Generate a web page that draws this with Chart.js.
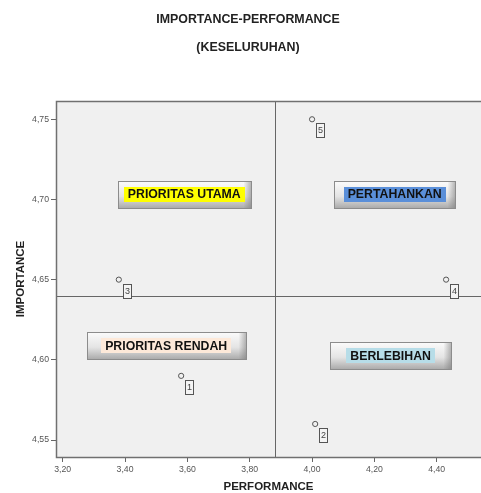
<!DOCTYPE html>
<html>
<head>
<meta charset="utf-8">
<script src="https://cdn.jsdelivr.net/npm/chart.js@4"></script>
<style>
  html, body { margin: 0; padding: 0; background: #fff; }
</style>
</head>
<body>
<canvas id="myChart" width="481" height="493"></canvas>
<script>
// Data
const pointIds = ['1', '2', '3', '4', '5'];
const performance = [3.58, 4.01, 3.38, 4.43, 4.00];
const importance = [4.59, 4.56, 4.65, 4.65, 4.75];
const meanPerformance = 3.88;
const meanImportance = 4.64;
const titleLines = ['IMPORTANCE-PERFORMANCE', '(KESELURUHAN)'];

// Quadrant labels, anchored at data values (centre of each box)
const quadrantNames = ['PRIORITAS UTAMA', 'PERTAHANKAN', 'PRIORITAS RENDAH', 'BERLEBIHAN'];
const quadrantColors = ['#ffff00', '#5a8fd9', '#fde9d9', '#b7dde8'];
const quadrantX = [3.59, 4.265, 3.532, 4.252];
const quadrantY = [4.7034, 4.7032, 4.6088, 4.6024];
const quadrantBoxW = [133, 121, 159, 121];

const FONT = "'Liberation Sans', Arial, sans-serif";
const fmt = v => v.toFixed(2).replace('.', ',');

// Plot background, frame and mean lines
const backdrop = {
    id: 'backdrop',
    beforeDatasetsDraw(chart) {
        const { ctx, chartArea: a, scales: { x, y } } = chart;
        ctx.save();
        ctx.fillStyle = '#f0f0f0';
        ctx.fillRect(a.left, a.top, a.right - a.left, a.bottom - a.top);
        ctx.strokeStyle = '#666';
        ctx.lineWidth = 1;
        const mx = Math.round(x.getPixelForValue(meanPerformance)) + 0.5;
        const my = Math.round(y.getPixelForValue(meanImportance)) + 0.5;
        ctx.beginPath();
        ctx.moveTo(mx, a.top); ctx.lineTo(mx, a.bottom);
        ctx.moveTo(a.left, my); ctx.lineTo(a.right, my);
        ctx.stroke();
        ctx.strokeStyle = '#707070';
        ctx.lineWidth = 1.5;
        ctx.beginPath();
        ctx.moveTo(a.right, a.top + 0.5);
        ctx.lineTo(a.left + 0.5, a.top + 0.5);
        ctx.lineTo(a.left + 0.5, a.bottom + 0.5);
        ctx.lineTo(a.right, a.bottom + 0.5);
        ctx.stroke();
        ctx.restore();
    }
};

// Bevelled quadrant boxes and point id boxes
const labels = {
    id: 'labels',
    afterDatasetsDraw(chart) {
        const { ctx, scales: { x, y } } = chart;
        ctx.save();
        quadrantNames.forEach((name, i) => {
            const cx = x.getPixelForValue(quadrantX[i]);
            const cy = y.getPixelForValue(quadrantY[i]);
            const w = quadrantBoxW[i], h = 27;
            const bx = Math.round(cx - w / 2) + 0.5, by = Math.round(cy - h / 2) + 0.5;
            const g = ctx.createLinearGradient(0, by, 0, by + h);
            g.addColorStop(0, '#fbfbfb');
            g.addColorStop(0.55, '#e4e4e4');
            g.addColorStop(1, '#a9a9a9');
            ctx.fillStyle = g;
            ctx.fillRect(bx, by, w, h);
            const gs = ctx.createLinearGradient(bx + w - 8, 0, bx + w, 0);
            gs.addColorStop(0, 'rgba(120,120,120,0)');
            gs.addColorStop(1, 'rgba(120,120,120,0.55)');
            ctx.fillStyle = gs;
            ctx.fillRect(bx + w - 8, by, 8, h);
            ctx.strokeStyle = '#8c8c8c';
            ctx.lineWidth = 1;
            ctx.strokeRect(bx, by, w, h);
            ctx.font = 'bold 12.3px ' + FONT;
            const tw = ctx.measureText(name).width;
            ctx.fillStyle = quadrantColors[i];
            ctx.fillRect(Math.round(cx - tw / 2 - 4), Math.round(cy - 7.5), Math.round(tw + 8), 15);
            ctx.fillStyle = '#111';
            ctx.textAlign = 'center';
            ctx.textBaseline = 'middle';
            ctx.fillText(name, cx, cy + 0.5);
        });
        const meta = chart.getDatasetMeta(0);
        ctx.font = '9px ' + FONT;
        meta.data.forEach((pt, i) => {
            const bx = Math.round(pt.x) + 4.5, by = Math.round(pt.y) + 4.5;
            ctx.fillStyle = '#f4f4f4';
            ctx.fillRect(bx, by, 8, 14);
            ctx.strokeStyle = '#555';
            ctx.strokeRect(bx, by, 8, 14);
            ctx.fillStyle = '#444';
            ctx.textAlign = 'center';
            ctx.textBaseline = 'middle';
            ctx.fillText(pointIds[i], bx + 4, by + 7.5);
        });
        ctx.restore();
    }
};

const ctx = document.getElementById('myChart').getContext('2d');
const chart = new Chart(ctx, {
    type: 'scatter',
    data: {
        datasets: [{
            data: performance.map((p, i) => ({ x: p, y: importance[i] })),
            pointRadius: 2.6,
            pointBorderWidth: 1,
            pointBorderColor: '#555',
            pointBackgroundColor: 'rgba(0,0,0,0)'
        }]
    },
    options: {
        responsive: false,
        animation: false,
        layout: { autoPadding: false, padding: { left: 15, right: 0, top: 0, bottom: 0 } },
        plugins: {
            legend: { display: false },
            tooltip: { enabled: false },
            title: {
                display: true,
                text: titleLines,
                color: '#222',
                font: { family: FONT, size: 12.4, weight: 'bold', lineHeight: '28px' },
                padding: { top: 6, bottom: 39 }
            }
        },
        scales: {
            x: {
                min: 3.1785,
                max: 4.542,
                afterFit: s => { s.height = 36; },
                border: { display: false },
                grid: { drawOnChartArea: false, drawTicks: true, tickLength: 5, color: '#666' },
                ticks: {
                    stepSize: 0.2,
                    includeBounds: false,
                    padding: 2,
                    color: '#555',
                    font: { family: FONT, size: 8.7 },
                    callback: v => fmt(v)
                },
                title: {
                    display: true,
                    text: 'PERFORMANCE',
                    color: '#222',
                    font: { family: FONT, size: 11.5, weight: 'bold', lineHeight: 1 },
                    padding: { top: 0, bottom: 0 }
                }
            },
            y: {
                min: 4.5394,
                max: 4.7614,
                afterFit: s => { s.width = 41; },
                border: { display: false },
                grid: { drawOnChartArea: false, drawTicks: true, tickLength: 5, color: '#666' },
                ticks: {
                    stepSize: 0.05,
                    includeBounds: false,
                    padding: 2,
                    color: '#555',
                    font: { family: FONT, size: 8.7 },
                    callback: v => fmt(v)
                },
                title: {
                    display: true,
                    text: 'IMPORTANCE',
                    color: '#222',
                    font: { family: FONT, size: 11.5, weight: 'bold', lineHeight: 1 },
                    padding: { top: 0, bottom: 0 }
                }
            }
        }
    },
    plugins: [backdrop, labels]
});
</script>
</body>
</html>
